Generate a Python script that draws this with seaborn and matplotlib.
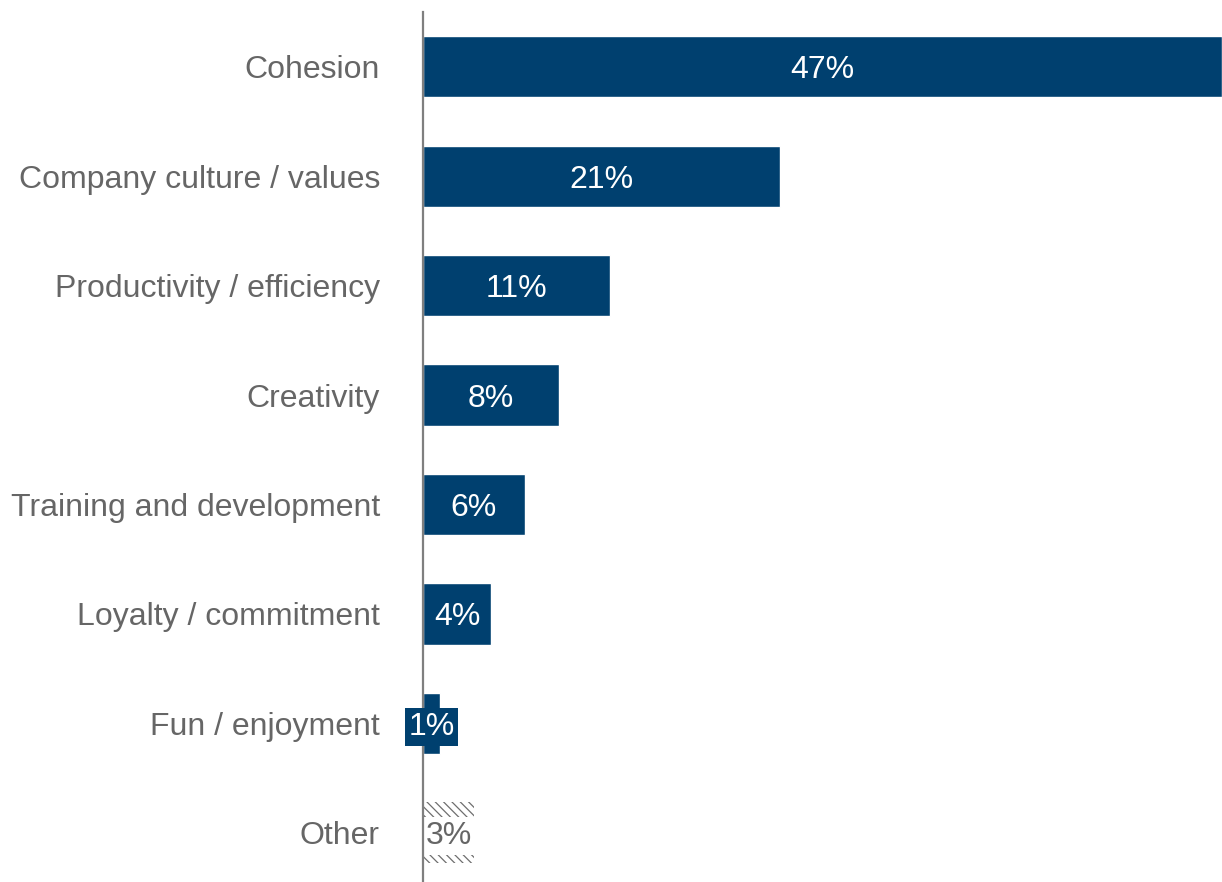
import matplotlib
matplotlib.use("Agg")
import matplotlib.pyplot as plt
import seaborn as sns
import pandas as pd

categories = [
    "Cohesion",
    "Company culture / values",
    "Productivity / efficiency",
    "Creativity",
    "Training and development",
    "Loyalty / commitment",
    "Fun / enjoyment",
    "Other",
]
values = [47, 21, 11, 8, 6, 4, 1, 3]
labels = ["47%", "21%", "11%", "8%", "6%", "4%", "1%", "3%"]

navy = "#00406F"
grey_text = "#666666"

sns.set_theme(style="white")
plt.rcParams["font.family"] = ["Liberation Sans", "DejaVu Sans"]
plt.rcParams["hatch.linewidth"] = 0.9

df = pd.DataFrame({"category": categories, "value": values})

fig = plt.figure(figsize=(12.22, 8.82), dpi=100)
ax = fig.add_axes([423 / 1222, 0.0, 1 - 423 / 1222, 1 - 12 / 882])

sns.barplot(data=df, x="value", y="category", orient="h", color=navy,
            saturation=1, width=0.56, ax=ax)

# "Other" is drawn as an unfilled hatched bar
other = ax.patches[-1]
other.set_facecolor("white")
other.set_edgecolor("#6e6e6e")
other.set_hatch("\\\\\\\\")
other.set_linewidth(0)

ax.set_xlim(0, 47)
ax.set_ylim(7.45, -0.5)
ax.set_xlabel("")
ax.set_ylabel("")
ax.set_xticks([])
fs = 23
ax.tick_params(axis="y", length=0, pad=31, labelsize=fs, labelcolor=grey_text)

for s in ["top", "right", "bottom"]:
    ax.spines[s].set_visible(False)
ax.spines["left"].set_color("#7f7f7f")
ax.spines["left"].set_linewidth(1.6)
ax.spines["left"].set_zorder(5)

for i, (v, lab) in enumerate(zip(values, labels)):
    if categories[i] == "Other":
        ax.text(v / 2, i, lab, ha="center", va="center_baseline", fontsize=fs,
                color=grey_text, zorder=4,
                bbox=dict(boxstyle="square,pad=0.12", facecolor="white",
                          edgecolor="none"))
    elif v < 3:
        ax.text(v / 2, i, lab, ha="center", va="center_baseline", fontsize=fs,
                color="white", zorder=6,
                bbox=dict(boxstyle="square,pad=0.12", facecolor=navy,
                          edgecolor="none"))
    else:
        ax.text(v / 2, i, lab, ha="center", va="center_baseline", fontsize=fs,
                color="white")

fig.savefig("out.png", dpi=100)
